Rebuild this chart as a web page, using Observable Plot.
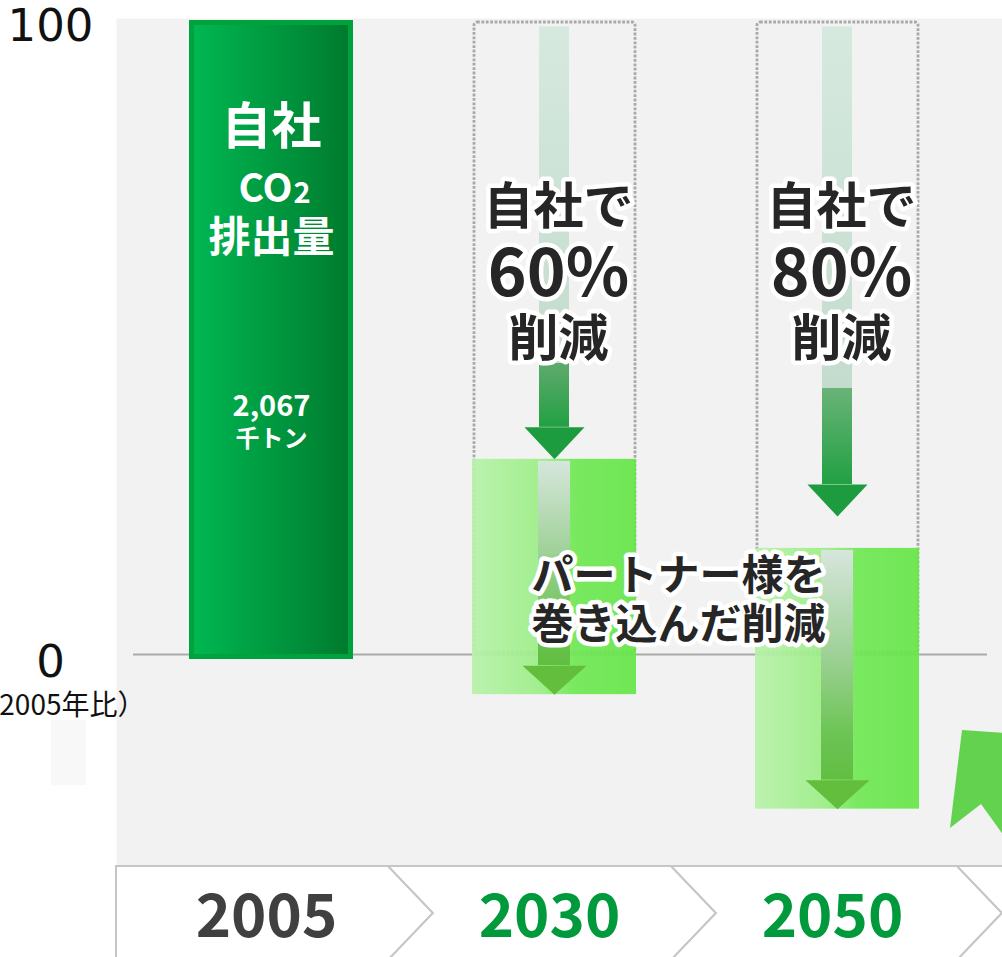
<!DOCTYPE html>
<html><head><meta charset="utf-8">
<script src="https://cdn.jsdelivr.net/npm/d3@7"></script>
<script src="https://cdn.jsdelivr.net/npm/@observablehq/plot@0.6"></script>
<style>
html,body{margin:0;padding:0;background:#fff;overflow:hidden;}
#chart{width:1002px;height:957px;overflow:hidden;}
</style></head><body><div id="chart"></div>
<script>
// ---- data ----
const years = ["2005", "2030", "2050"];
const yearColors = ["#404040", "#009a3c", "#009a3c"];
const baseYear = "2005";
const baseValue = 100;
const baseTitle = "自社";
const baseCO = "CO";
const baseSub = "2";
const baseTitle2 = "排出量";
const baseAmount = "2,067";
const baseUnit = "千トン";
const targetYears = ["2030", "2050"];
const selfTop = [99, 99];
const selfTip = [31, 22];
const selfPct = ["60%", "80%"];
const partnerTop = [31, 17];
const partnerBottom = [-6, -24];
const yTicks = [100, 0];
const yTickLabels = ["100", "0"];
const yNote = "（2005年比）";
const selfLine1 = "自社で";
const selfLine3 = "削減";
const partnerText = "パートナー様を\n巻き込んだ削減";

const targets = targetYears.map((year, i) => ({
  year, selfTop: selfTop[i], selfTip: selfTip[i], pct: selfPct[i],
  partnerTop: partnerTop[i], partnerBottom: partnerBottom[i]
}));
const yearTable = years.map((year, i) => ({year, color: yearColors[i]}));

const JP = "'Noto Sans CJK JP', 'Noto Sans', sans-serif";
const DARK = "#262626";

const downHead = (hw, h) => ({draw(ctx) { ctx.moveTo(0, 0); ctx.lineTo(-hw, -h); ctx.lineTo(hw, -h); ctx.closePath(); }});

const defs = () => {
  const d = d3.create("svg:defs");
  const lin = (id, horiz, stops) => {
    const g = d.append("linearGradient").attr("id", id)
      .attr("x1", 0).attr("y1", 0).attr("x2", horiz ? 1 : 0).attr("y2", horiz ? 0 : 1);
    stops.forEach(([o, c]) => g.append("stop").attr("offset", o).attr("stop-color", c));
  };
  lin("gBar", true, [[0, "#00b852"], [1, "#007a2e"]]);
  lin("gBox", true, [[0, "#b8f2aa"], [0.42, "#9cee86"], [0.62, "#70e855"], [1, "#66e648"]]);
  lin("gSelf0", false, [[0, "#d6e9df"], [0.84, "#c3dccd"], [0.84, "#5faa6d"], [1, "#22a043"]]);
  lin("gSelf1", false, [[0, "#d6e9df"], [0.79, "#c3dccd"], [0.79, "#6ab378"], [1, "#22a043"]]);
  lin("gPart", false, [[0, "#d6e6dc"], [0.45, "#9fd198"], [0.8, "#6cc454"], [1, "#62be42"]]);
  const f = d.append("filter").attr("id", "glow").attr("x", "-20%").attr("y", "-30%").attr("width", "140%").attr("height", "160%");
  f.append("feGaussianBlur").attr("stdDeviation", 2);
  return d.node();
};

const chevrons = (index, scales, values, dims) => {
  const x = scales.x, bw = x.bandwidth ? x.bandwidth() : 164;
  const top = dims.height - dims.marginBottom, mid = top + 47, bot = top + 94, dd = 45;
  const b = [dims.marginLeft, ...years.map((y, i) => x(y) + bw + (i === 2 ? 38 : 35)), dims.width + 80];
  const g = d3.create("svg:g");
  for (let i = 0; i < b.length - 1; i++) {
    const L = b[i], R = b[i + 1];
    const pts = i === 0
      ? [[L, top], [R, top], [R + dd, mid], [R, bot], [L, bot]]
      : [[L, top], [R, top], [R + dd, mid], [R, bot], [L, bot], [L + dd, mid]];
    g.append("path").attr("d", "M" + pts.join("L") + "Z")
      .attr("fill", "#fff").attr("stroke", "#c6c6c6").attr("stroke-width", 2);
  }
  // decorative bits
  g.append("rect").attr("x", 51).attr("y", 720).attr("width", 35).attr("height", 65).attr("fill", "#f8f8f8");
  g.append("path").attr("d", "M962,730L1004,733L1004,836L981,804L950,828Z").attr("fill", "#63d24e");
  return g.node();
};

const glow = (data, o) => [
  Plot.text(data, {...o, fill: "white", stroke: "white", strokeWidth: 9, strokeLinejoin: "round", ariaLabel: "halo"}),
  Plot.text(data, o)
];

const T = {frameAnchor: "top", lineAnchor: "middle"};

const chart = Plot.plot({
  width: 1002, height: 957,
  marginTop: 18, marginRight: 0, marginBottom: 91, marginLeft: 116,
  style: {background: "transparent", fontFamily: JP},
  x: {type: "band", domain: years, range: [189, 920], paddingInner: 0.42, paddingOuter: 0, axis: null},
  y: {domain: [0, 100], range: [656, 20], axis: null},
  color: {type: "identity"},
  marks: [
    defs,
    Plot.frame({fill: "#f2f2f2"}),
    chevrons,
    Plot.ruleY([0], {stroke: "#a9a9a9", strokeWidth: 2, insetLeft: 17, insetRight: 15, dy: -2}),
    // dotted outlines of own-reduction range
    Plot.barY(targets, {x: "year", y1: 0, y2: baseValue, fill: "none", stroke: "#a9a9a9", strokeWidth: 2.8,
      strokeDasharray: "2.8,1.6", rx: 3, insetLeft: 2, insetRight: 1, insetTop: 2, insetBottom: 4}),
    // 2005 bar
    Plot.barY([baseYear], {x: d => d, y1: 0, y2: baseValue, fill: "url(#gBar)", stroke: "#00a23e", strokeWidth: 5,
      insetLeft: 2.5, insetRight: 2.5, insetTop: 2.5, insetBottom: -0.5}),
    // self-reduction arrows
    ...targets.map((t, i) => Plot.barY([t], {x: "year", y1: "selfTip", y2: "selfTop", fill: `url(#gSelf${i})`,
      insetLeft: 67, insetRight: 67, insetBottom: 32})),
    Plot.dot(targets, {x: "year", y: "selfTip", symbol: downHead(30, 32), fill: "#1c9c3f", r: 10}),
    // partner boxes
    Plot.barY(targets, {x: "year", y1: "partnerBottom", y2: "partnerTop", fill: "url(#gBox)", fillOpacity: 0.93}),
    Plot.barY(targets, {x: "year", y1: "partnerBottom", y2: "partnerTop", fill: "url(#gPart)",
      insetLeft: 66, insetRight: 66, insetTop: 2, insetBottom: 29}),
    Plot.dot(targets, {x: "year", y: "partnerBottom", symbol: downHead(32, 29), fill: "#62be3c", r: 10}),
    // bar labels
    Plot.text([baseYear], {...T, x: d => d, text: () => baseTitle, dy: 109, fill: "white", fontSize: 50, fontWeight: "bold"}),
    Plot.text([baseYear], {...T, x: d => d, text: () => baseCO, dy: 171, dx: 21, textAnchor: "end", fill: "white", fontSize: 39, fontWeight: "bold"}),
    Plot.text([baseYear], {...T, x: d => d, text: () => baseSub, dy: 175, dx: 22, textAnchor: "start", fill: "white", fontSize: 29, fontWeight: "bold"}),
    Plot.text([baseYear], {...T, x: d => d, text: () => baseTitle2, dy: 220, fill: "white", fontSize: 42, fontWeight: "bold"}),
    Plot.text([baseYear], {...T, x: d => d, text: () => baseAmount, dy: 388, fill: "white", fontSize: 29, fontWeight: "bold"}),
    Plot.text([baseYear], {...T, x: d => d, text: () => baseUnit, dy: 421, fill: "white", fontSize: 24, fontWeight: "bold"}),
    // self reduction labels
    ...glow(targets, {...T, x: "year", text: () => selfLine1, dy: 189, dx: 4, fill: DARK, fontSize: 50, fontWeight: "bold"}),
    ...glow(targets, {...T, x: "year", text: "pct", dy: 256, dx: 4, fill: DARK, fontSize: 66, fontWeight: "bold"}),
    ...glow(targets, {...T, x: "year", text: () => selfLine3, dy: 321, dx: 4, fill: DARK, fontSize: 50, fontWeight: "bold"}),
    // partner label
    ...glow([partnerText], {...T, text: d => d, dx: 119, dy: 580, lineHeight: 1.19, fill: DARK, fontSize: 42, fontWeight: "bold"}),
    // y labels
    Plot.text(yTicks, {y: d => d, text: (d, i) => yTickLabels[i], frameAnchor: "left", lineAnchor: "middle", dx: -66, dy: 6, textAnchor: "middle",
      fill: "#111", fontSize: 45, fontFamily: "'DejaVu Sans', sans-serif"}),
    Plot.text([0], {y: d => d, text: () => yNote, frameAnchor: "left", lineAnchor: "middle", dx: 29, dy: 50, textAnchor: "end", fill: "#111", fontSize: 28}),
    // year labels
    Plot.text(yearTable, {x: "year", text: "year", fill: "color", frameAnchor: "bottom", lineAnchor: "middle", dx: -5, dy: 51, fontSize: 60, fontWeight: "bold"})
  ]
});
chart.querySelectorAll('g[aria-label="halo"]').forEach(g => g.setAttribute("filter", "url(#glow)"));
document.getElementById("chart").appendChild(chart);
</script>
</body></html>
